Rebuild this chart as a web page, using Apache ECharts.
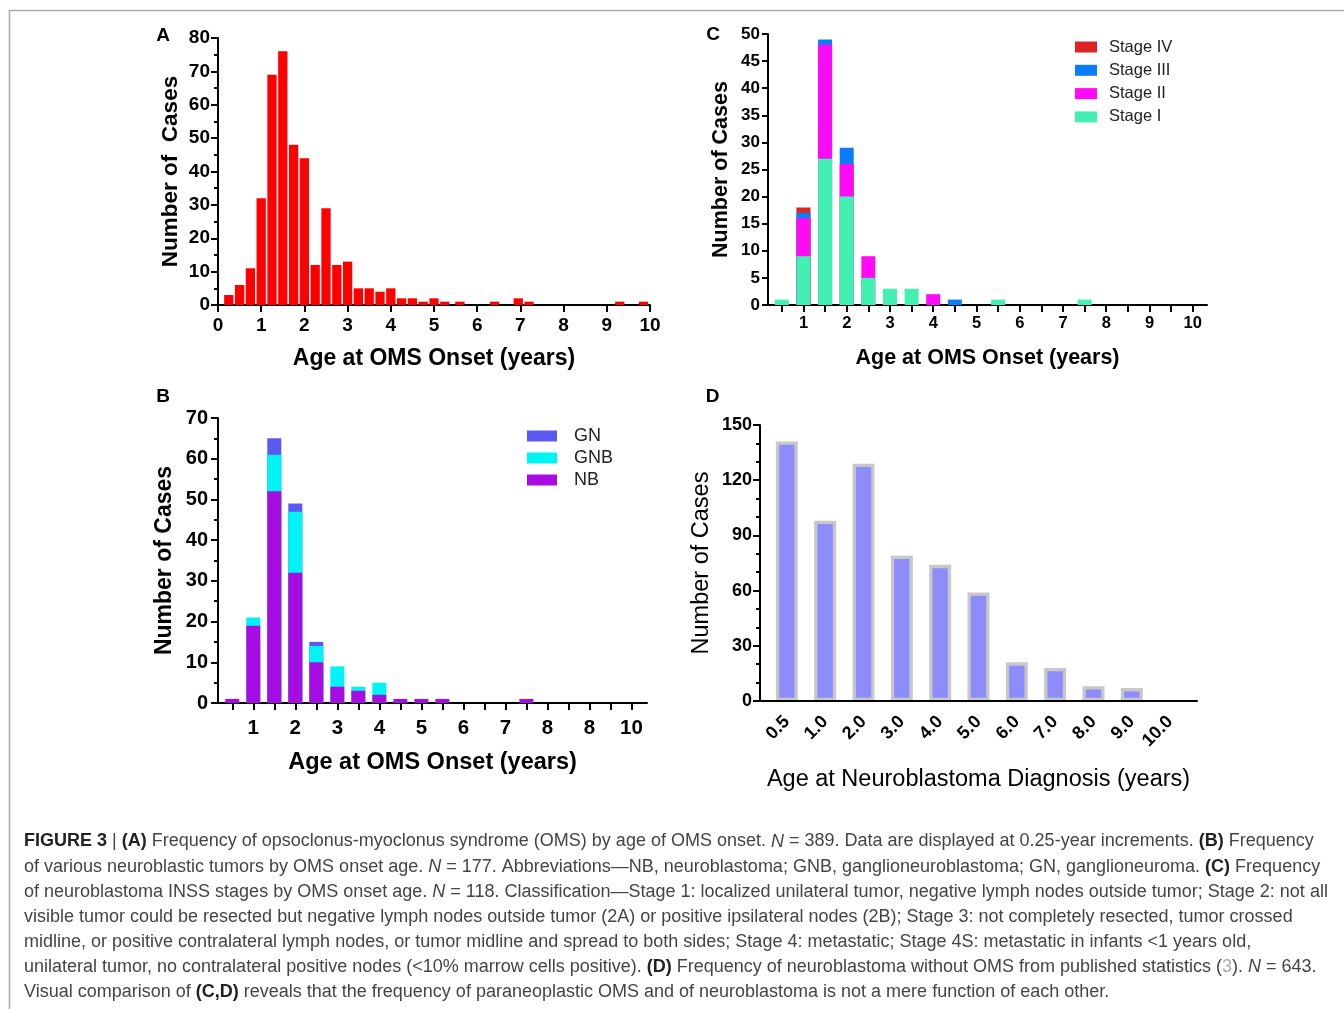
<!DOCTYPE html>
<html><head><meta charset="utf-8">
<script src="https://cdn.jsdelivr.net/npm/echarts@6/dist/echarts.min.js"></script>
<style>html,body{margin:0;padding:0;background:#fff}#c{width:1344px;height:1009px}</style>
</head><body><div id="c"></div>
<script>
// ---------- DATA ----------
// Panel A: OMS onset age (0.25-year bins)
const agesA  = [0.25,0.5,0.75,1,1.25,1.5,1.75,2,2.25,2.5,2.75,3,3.25,3.5,3.75,4,4.25,4.5,4.75,5,5.25,5.6,6.4,6.95,7.2,9.3,9.85];
const casesA = [3,6,11,32,69,76,48,44,12,29,12,13,5,5,4,5,2,2,1,2,1,1,1,2,1,1,1];
const ticksA = [0,1,2,3,4,5,6,7,8,9,10];

// Panel B: tumor types by onset age (0.5-year bins)
const agesB = [0.5,1,1.5,2,2.5,3,3.5,4,4.5,5,5.5,6,6.5,7,7.5,8,8.5,9,9.5,10];
const nbB   = [1,19,52,32,10,4,3,2,1,1,1,0,0,0,1,0,0,0,0,0];
const gnbB  = [0,2,9,15,4,5,1,3,0,0,0,0,0,0,0,0,0,0,0,0];
const gnB   = [0,0,4,2,1,0,0,0,0,0,0,0,0,0,0,0,0,0,0,0];
const tickLabelsB = ['1','2','3','4','5','6','7','8','8','10'];

// Panel C: INSS stages by onset age (0.5-year bins)
const agesC    = [0.5,1,1.5,2,2.5,3,3.5,4,4.5,5,5.5,6,6.5,7,7.5,8,8.5,9,9.5,10];
const stageI   = [1,9,27,20,5,3,3,0,0,0,1,0,0,0,1,0,0,0,0,0];
const stageII  = [0,7,21,6,4,0,0,2,0,0,0,0,0,0,0,0,0,0,0,0];
const stageIII = [0,1,1,3,0,0,0,0,1,0,0,0,0,0,0,0,0,0,0,0];
const stageIV  = [0,1,0,0,0,0,0,0,0,0,0,0,0,0,0,0,0,0,0,0];
const tickLabelsC = ['1','2','3','4','5','6','7','8','9','10'];

// Panel D: neuroblastoma without OMS
const catsD  = ['0.5','1.0','2.0','3.0','4.0','5.0','6.0','7.0','8.0','9.0','10.0'];
const casesD = [141,98,129,79,74,59,21,18,8,7,0];

// ---------- CHART ----------
const F = '"Liberation Sans", Arial, Helvetica, sans-serif';
const chart = echarts.init(document.getElementById('c'), null, {renderer:'canvas'});

const halfTicks = agesB.slice();
const intTicks = [1,2,3,4,5,6,7,8,9,10];

function line(){ return {show:true, onZero:false, lineStyle:{color:'#000', width:2}}; }
function tick(len){ return {show:true, length:len, inside:false, lineStyle:{color:'#000', width:2}}; }
function lab(size, margin, extra){ return Object.assign({fontSize:size, fontWeight:'bold', color:'#000', fontFamily:F, margin:margin}, extra||{}); }
function nameStyle(size, bold){ return {fontSize:size, fontWeight:bold?'bold':'normal', color:'#000', fontFamily:F}; }

const grids = [
  {left:218, top:38,  width:432, height:267},   // A
  {left:768, top:34,  width:439, height:271},   // C
  {left:218, top:418, width:429, height:285},   // B
  {left:760, top:425, width:437, height:276}    // D
].map(g => Object.assign({outerBoundsMode:'none', containLabel:false}, g));

const xAxes = [
  {gridIndex:0, type:'value', min:0, max:10, interval:1,
   axisLine:line(), axisTick:tick(7), splitLine:{show:false},
   axisLabel:lab(19, 11, {formatter:v=>String(ticksA[Math.round(v)])}),
   name:'Age at OMS Onset (years)', nameLocation:'middle', nameGap:42, nameTextStyle:nameStyle(23,true)},
  {gridIndex:1, type:'value', min:0.18, max:10.33,
   axisLine:line(), axisTick:Object.assign(tick(7), {customValues:halfTicks}), splitLine:{show:false},
   axisLabel:lab(16.5, 10, {customValues:intTicks, formatter:v=>tickLabelsC[Math.round(v)-1]}),
   name:'Age at OMS Onset (years)', nameLocation:'middle', nameGap:42, nameTextStyle:nameStyle(21.5,true)},
  {gridIndex:2, type:'value', min:0.16, max:10.37,
   axisLine:line(), axisTick:Object.assign(tick(7), {customValues:halfTicks}), splitLine:{show:false},
   axisLabel:lab(20.5, 15, {customValues:intTicks, formatter:v=>tickLabelsB[Math.round(v)-1]}),
   name:'Age at OMS Onset (years)', nameLocation:'middle', nameGap:48, nameTextStyle:nameStyle(23.5,true)},
  {gridIndex:3, type:'value', min:-0.7, max:10.7, z:5,
   axisLine:line(), axisTick:{show:false}, splitLine:{show:false},
   axisLabel:lab(18, 18, {customValues:catsD.map((c,i)=>i), formatter:v=>catsD[Math.round(v)], rotate:45}),
   name:'Age at Neuroblastoma Diagnosis (years)', nameLocation:'middle', nameGap:67, nameTextStyle:nameStyle(23.5,false)}
];

const yAxes = [
  {gridIndex:0, type:'value', min:0, max:80, interval:10,
   axisLine:line(), axisTick:tick(7), minorTick:{show:true, splitNumber:2, length:4, lineStyle:{color:'#000', width:2}},
   splitLine:{show:false}, axisLabel:lab(19, 8),
   name:'Number of  Cases', nameLocation:'middle', nameGap:36, nameTextStyle:nameStyle(22.5,true)},
  {gridIndex:1, type:'value', min:0, max:50, interval:5,
   axisLine:line(), axisTick:tick(6), splitLine:{show:false}, axisLabel:lab(17, 8),
   name:'Number of Cases', nameLocation:'middle', nameGap:36, nameTextStyle:nameStyle(21.5,true)},
  {gridIndex:2, type:'value', min:0, max:70, interval:10,
   axisLine:line(), axisTick:tick(7), minorTick:{show:true, splitNumber:2, length:4, lineStyle:{color:'#000', width:2}},
   splitLine:{show:false}, axisLabel:lab(20, 10),
   name:'Number of Cases', nameLocation:'middle', nameGap:42, nameTextStyle:nameStyle(23,true)},
  {gridIndex:3, type:'value', min:0, max:150, interval:30,
   axisLine:line(), axisTick:tick(7), minorTick:{show:true, splitNumber:3, length:4, lineStyle:{color:'#000', width:2}},
   splitLine:{show:false}, axisLabel:lab(18, 8),
   name:'Number of Cases', nameLocation:'middle', nameGap:46, nameTextStyle:nameStyle(23.5,false)}
];

// Stacked layers: each layer is drawn as the running total of the layers
// beneath it plus its own value, overlapping in the same slot (barGap -100%),
// top layer first so lower layers paint over it.
function stackedLayers(xs, layers){
  const run = xs.map(() => 0);
  const tops = layers.map(l => {
    const tot = l.values.map((v,i) => (run[i] += v));
    return {name:l.name, color:l.color, data:xs.map((x,i) => [x, l.values[i] === 0 ? '-' : tot[i]])};
  });
  return tops.reverse();
}
function layerSeries(xi, yi, layers){
  return layers.map(l => ({type:'bar', name:l.name, xAxisIndex:xi, yAxisIndex:yi, barWidth:14, barGap:'-100%',
    data:l.data, itemStyle:{color:l.color}, animation:false}));
}

const series = [
  {type:'bar', name:'OMS', xAxisIndex:0, yAxisIndex:0, barWidth:9.3,
   data:agesA.map((x,i)=>[x, casesA[i]]), itemStyle:{color:'#FF0000'}, animation:false},
  ...layerSeries(1, 1, stackedLayers(agesC, [
    {name:'Stage I',   values:stageI,   color:'#42F0B2'},
    {name:'Stage II',  values:stageII,  color:'#FF0AF5'},
    {name:'Stage III', values:stageIII, color:'#0A7EF8'},
    {name:'Stage IV',  values:stageIV,  color:'#DE2222'}])),
  ...layerSeries(2, 2, stackedLayers(agesB, [
    {name:'NB',  values:nbB,  color:'#A70CE3'},
    {name:'GNB', values:gnbB, color:'#00F3F5'},
    {name:'GN',  values:gnB,  color:'#5A5AF2'}])),
  {type:'bar', name:'NBD', xAxisIndex:3, yAxisIndex:3, barWidth:22,
   data:casesD.map((v,i)=>[i, v === 0 ? '-' : v]),
   itemStyle:{color:'#8C8CFA', borderColor:'#C8C8C8', borderWidth:3.3}, animation:false}
];

const legends = [
  {data:['Stage IV','Stage III','Stage II','Stage I'], orient:'vertical', left:1075, top:38, padding:0,
   itemWidth:22, itemHeight:11, itemGap:5.3, icon:'rect', selectedMode:false,
   textStyle:{fontSize:16.5, color:'#222', fontFamily:F, lineHeight:18, padding:[0,0,0,7]}},
  {data:['GN','GNB','NB'], orient:'vertical', left:527, top:427, padding:0,
   itemWidth:30, itemHeight:11, itemGap:4, icon:'rect', selectedMode:false,
   textStyle:{fontSize:18, color:'#222', fontFamily:F, lineHeight:18, padding:[0,0,0,12]}}
];

const captionLines = [
  '{b|FIGURE 3} | {b|(A)} Frequency of opsoclonus-myoclonus syndrome (OMS) by age of OMS onset. {i|N} = 389. Data are displayed at 0.25-year increments. {b|(B)} Frequency',
  'of various neuroblastic tumors by OMS onset age. {i|N} = 177. Abbreviations\u2014NB, neuroblastoma; GNB, ganglioneuroblastoma; GN, ganglioneuroma. {b|(C)} Frequency',
  'of neuroblastoma INSS stages by OMS onset age. {i|N} = 118. Classification\u2014Stage 1: localized unilateral tumor, negative lymph nodes outside tumor; Stage 2: not all',
  'visible tumor could be resected but negative lymph nodes outside tumor (2A) or positive ipsilateral nodes (2B); Stage 3: not completely resected, tumor crossed',
  'midline, or positive contralateral lymph nodes, or tumor midline and spread to both sides; Stage 4: metastatic; Stage 4S: metastatic in infants <1 years old,',
  'unilateral tumor, no contralateral positive nodes (<10% marrow cells positive). {b|(D)} Frequency of neuroblastoma without OMS from published statistics ({g|3}). {i|N} = 643.',
  'Visual comparison of {b|(C,D)} reveals that the frequency of paraneoplastic OMS and of neuroblastoma is not a mere function of each other.'
];
const CS = 18;
const capRich = {
  b:{fontSize:CS, fontFamily:F, fontWeight:'bold', fill:'#222'},
  i:{fontSize:CS, fontFamily:F, fontStyle:'italic', fill:'#444'},
  g:{fontSize:CS, fontFamily:F, fill:'#aaa'}
};
const graphics = [
  {type:'rect', shape:{x:9.5, y:10.5, width:1400, height:1100}, style:{fill:'none', stroke:'#aaa', lineWidth:1.5}, silent:true},
  ...[['A',163,36],['C',713,35],['B',163,397],['D',712.5,397]].map(([t,x,y]) => (
    {type:'text', x, y, style:{text:t, fontSize:19, fontWeight:'bold', fontFamily:F, fill:'#000', align:'center', verticalAlign:'middle'}})),
  ...captionLines.map((t,k) => ({type:'text', x:24, y:841.5 + k*25.17,
    style:{text:t, fontSize:CS, fontFamily:F, fill:'#444', verticalAlign:'middle', rich:capRich}}))
];

chart.setOption({
  animation:false,
  textStyle:{fontFamily:F},
  grid:grids, xAxis:xAxes, yAxis:yAxes, series, legend:legends, graphic:graphics
});
</script></body></html>
